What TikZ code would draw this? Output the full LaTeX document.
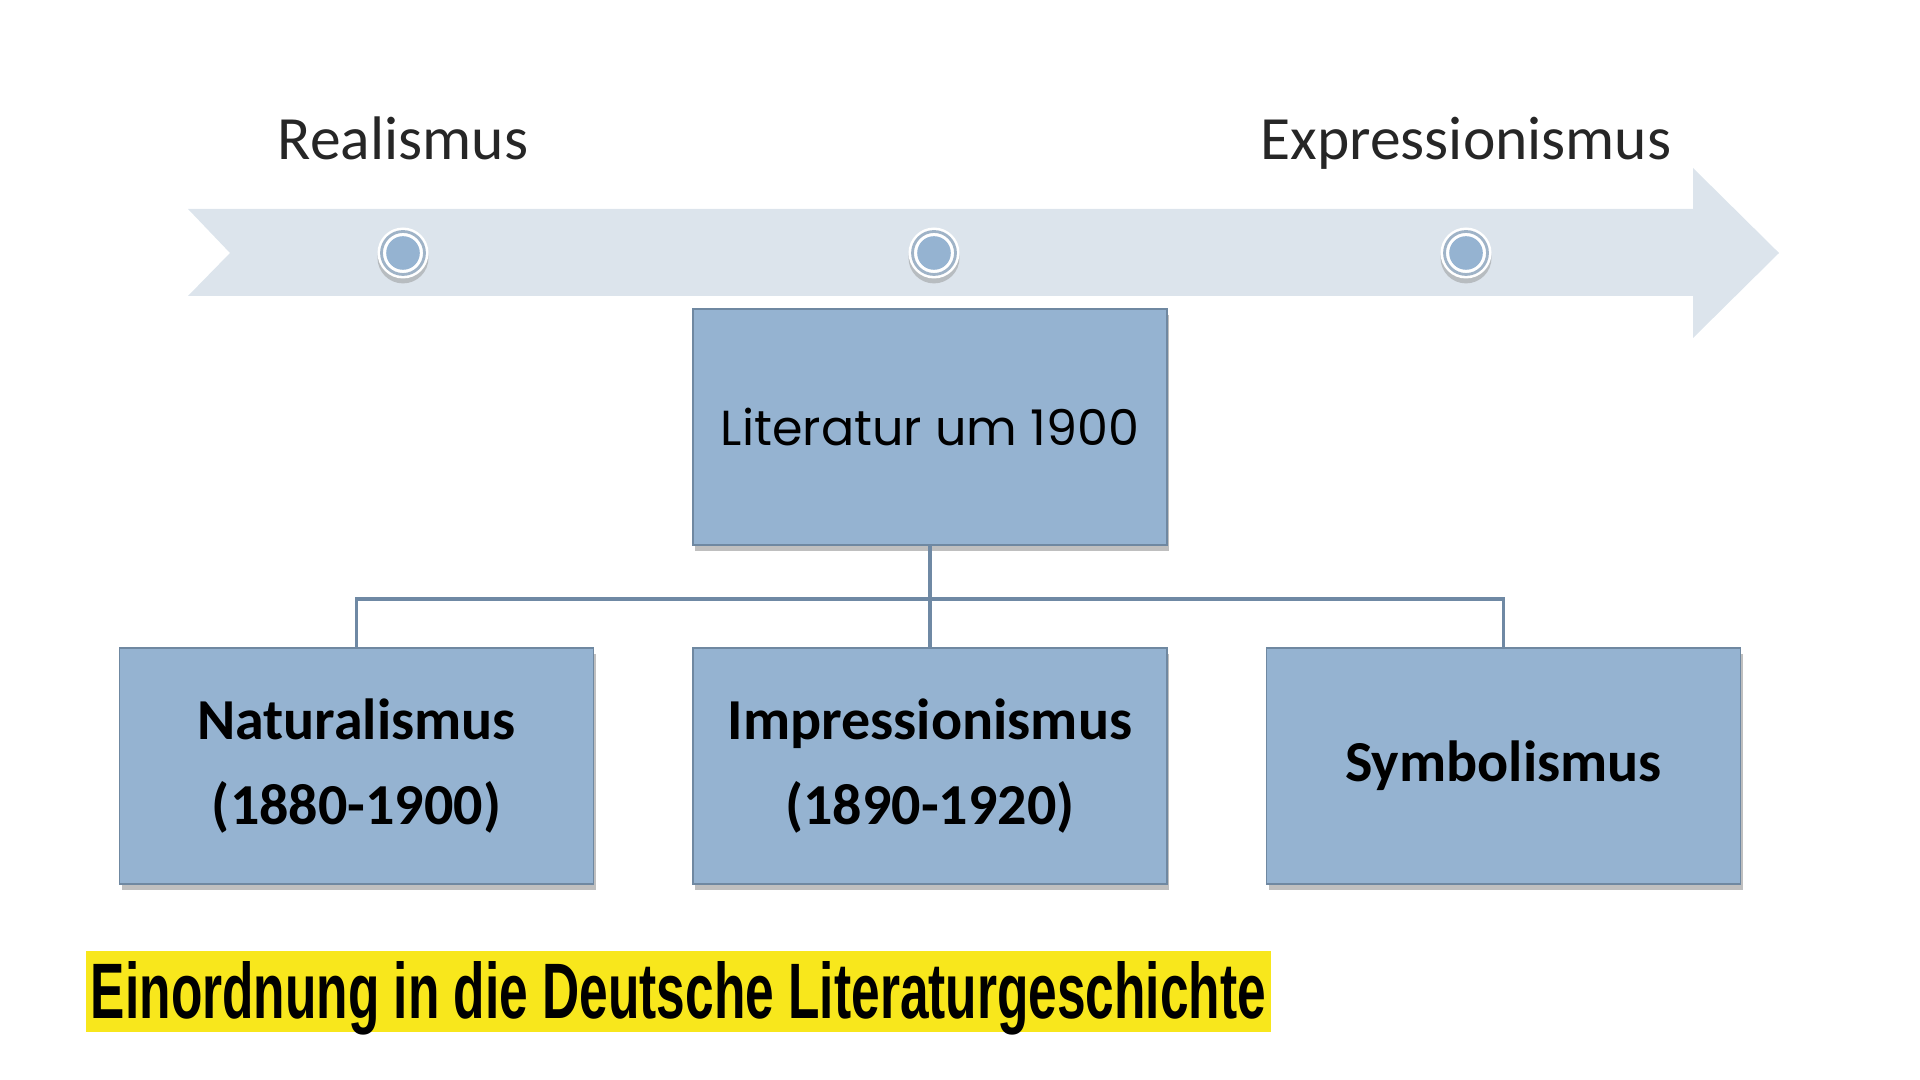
\documentclass[tikz,border=0pt]{standalone}
\usepackage{fontspec}
\setmainfont{Carlito}
\newfontfamily\geofont{Poppins}
\newfontfamily\banfont{Liberation Sans}
\usepackage{xcolor}
\usetikzlibrary{calc, positioning, shadows}

\definecolor{arrowbg}{HTML}{DCE4EC}
\definecolor{boxfill}{HTML}{95B3D1}
\definecolor{boxline}{HTML}{6F88A1}
\definecolor{connline}{HTML}{6F89A4}
\definecolor{dotring}{HTML}{9FB3C7}
\definecolor{banyellow}{HTML}{F8E71C}
\definecolor{labelgray}{HTML}{262626}

\begin{document}
\begin{tikzpicture}[
        line width=0.3pt,
        epoch/.style={
            inner sep=0pt,
            text=labelgray,
            font=\fontsize{17.5}{21}\selectfont
        },
        dot/.style={
            circle, fill=white,
            minimum size=0.51cm,
            inner sep=0pt,
            drop shadow={shadow xshift=0pt, shadow yshift=-1.4pt, opacity=0.4}
        },
        topicbox/.style={
            draw=boxline, fill=boxfill,
            minimum width=4.74cm,
            minimum height=2.36cm,
            inner sep=0pt, outer sep=0pt,
            align=center,
            drop shadow={shadow xshift=0.6pt, shadow yshift=-1.8pt, opacity=0.5}
        },
        conn/.style={draw=connline, line width=1pt},
        banner/.style={
            fill=banyellow,
            minimum width=11.85cm,
            text height=0.68cm,
            text depth=0.13cm,
            inner sep=0pt
        },
    ]

    \useasboundingbox (0,0) rectangle (19.2,10.8);

    %============================================================
    % Time arrow
    %============================================================
    \fill[arrowbg] (1.88,8.71) -- (16.93,8.71) -- (16.93,9.12) -- (17.79,8.27)
        -- (16.93,7.42) -- (16.93,7.84) -- (1.88,7.84) -- (2.30,8.27) -- cycle;

    % Milestones on the arrow
    \foreach \i/\x in {1/4.03, 2/9.34, 3/14.66}{
        \node[dot] (DOT\i) at (\x,8.27) {};
        \draw[dotring, line width=0.8pt] (DOT\i) circle[radius=0.215cm];
        \fill[boxfill] (DOT\i) circle[radius=0.168cm];
    }

    % Epoch labels
    \node[epoch, anchor=base] (REAL) at ($(DOT1)+(0,0.93)$) {Realismus};
    \node[epoch, anchor=base] (EXPR) at ($(DOT3)+(0,0.93)$) {Expressionismus};

    %============================================================
    % Main box: Literatur um 1900
    %============================================================
    \node[topicbox, font=\geofont\fontsize{14}{17}\selectfont] (LIT) at (9.30,6.53) {Literatur um 1900};

    %============================================================
    % Sub-movements
    %============================================================
    \node[topicbox, font=\bfseries\fontsize{16.5}{24.4}\selectfont] (NAT) at (3.565,3.14) {Naturalismus\\(1880-1900)};
    \node[topicbox, font=\bfseries\fontsize{16.5}{24.4}\selectfont] (IMP) at (9.30,3.14) {Impressionismus\\(1890-1920)};
    \node[topicbox, font=\bfseries\fontsize{16.5}{24.4}\selectfont] (SYM) at (15.035,3.14) {Symbolismus};

    % Tree lines: LIT -> bus -> children
    \coordinate (bus) at (9.30,4.81);
    \draw[conn] (LIT.south) -- (IMP.north);
    \draw[conn] (NAT.north) -- (NAT.north |- bus) -- (SYM.north |- bus) -- (SYM.north);

    %============================================================
    % Caption
    %============================================================
    \node[banner] (TITLE) at (6.785,0.885)
        {\resizebox{11.75cm}{0.57cm}{\banfont\bfseries Einordnung in die Deutsche Literaturgeschichte}};

\end{tikzpicture}
\end{document}
